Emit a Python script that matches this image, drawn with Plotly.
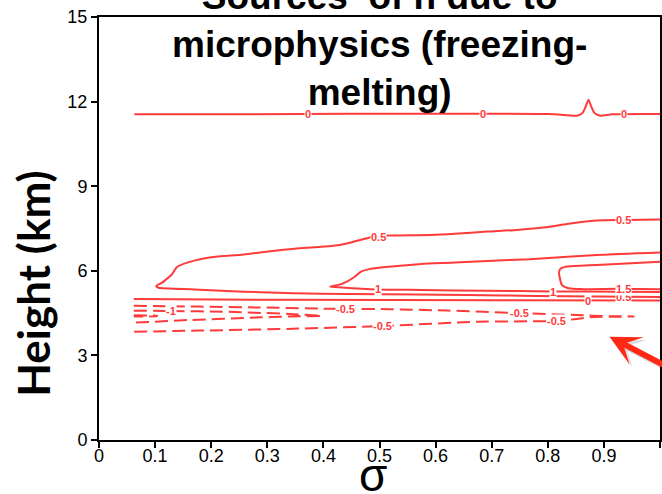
import plotly.graph_objects as go

# ---- contour paths (sigma, height in km) ----
zero_upper_x = [0.063, 0.18, 0.36, 0.53, 0.71, 0.80, 0.835, 0.852, 0.862, 0.868, 0.8725, 0.877, 0.883, 0.893, 0.915, 1.0]
zero_upper_y = [11.55, 11.55, 11.56, 11.57, 11.57, 11.56, 11.52, 11.50, 11.60, 11.85, 12.07, 11.85, 11.60, 11.50, 11.55, 11.56]

pos05_x = [1.0, 0.935, 0.887, 0.834, 0.804, 0.745, 0.692, 0.634, 0.591, 0.515, 0.499, 0.485, 0.444, 0.414,
           0.356, 0.317, 0.258, 0.200, 0.170, 0.140, 0.129, 0.120, 0.112, 0.104, 0.102, 0.106,
           0.170, 0.228, 0.289, 0.347, 0.444, 0.568, 0.657, 0.781, 0.887, 1.0]
pos05_y = [7.82, 7.80, 7.78, 7.66, 7.56, 7.45, 7.39, 7.31, 7.27, 7.25, 7.22, 7.19, 6.98, 6.88,
           6.80, 6.72, 6.58, 6.48, 6.36, 6.15, 5.85, 5.70, 5.57, 5.50, 5.44, 5.40,
           5.34, 5.28, 5.24, 5.20, 5.18, 5.16, 5.14, 5.11, 5.09, 5.07]

pos1_x = [1.0, 0.887, 0.768, 0.692, 0.634, 0.574, 0.533, 0.515, 0.480, 0.467, 0.456, 0.441, 0.427, 0.412,
          0.432, 0.497, 0.574, 0.692, 0.809, 0.922, 1.0]
pos1_y = [6.65, 6.56, 6.41, 6.35, 6.29, 6.24, 6.17, 6.14, 6.05, 5.97, 5.79, 5.61, 5.50, 5.44,
          5.41, 5.34, 5.32, 5.29, 5.27, 5.26, 5.25]

pos15_x = [1.0, 0.940, 0.887, 0.834, 0.822, 0.820, 0.821, 0.825, 0.837, 0.863, 0.922, 1.0]
pos15_y = [6.32, 6.26, 6.21, 6.15, 6.06, 5.92, 5.79, 5.50, 5.38, 5.35, 5.36, 5.35]

zero_lower_x = [0.062, 0.35, 0.70, 1.0]
zero_lower_y = [5.00, 4.97, 4.955, 4.945]

neg05_x = [0.062, 0.179, 0.285, 0.391, 0.439, 0.515, 0.621, 0.750, 0.851, 0.910, 0.954,
           0.925, 0.881, 0.851, 0.816, 0.674, 0.506, 0.356, 0.179, 0.062]
neg05_y = [4.76, 4.73, 4.70, 4.66, 4.65, 4.64, 4.59, 4.50, 4.43, 4.39, 4.38,
           4.37, 4.36, 4.29, 4.22, 4.195, 4.04, 3.95, 3.88, 3.84]

neg1_x = [0.062, 0.129, 0.2195, 0.338, 0.397, 0.338, 0.280, 0.161, 0.062]
neg1_y = [4.585, 4.575, 4.55, 4.47, 4.40, 4.38, 4.34, 4.255, 4.16]

neg15_x = [0.062, 0.098, 0.104, 0.098, 0.062]
neg15_y = [4.42, 4.415, 4.40, 4.385, 4.38]

# ---- contour labels ----
label_text = ["0", "0", "0", "0.5", "0.5", "0.5", "1", "1", "1.5", "0",
              "-0.5", "-0.5", "-0.5", "-0.5", "-1"]
label_x = [0.373, 0.685, 0.935, 0.499, 0.935, 0.935, 0.497, 0.810, 0.935, 0.872,
           0.439, 0.750, 0.506, 0.816, 0.129]
label_y = [11.55, 11.55, 11.55, 7.21, 7.80, 5.06, 5.34, 5.265, 5.37, 4.94,
           4.645, 4.50, 4.04, 4.22, 4.575]

x_ticks = [0, 0.1, 0.2, 0.3, 0.4, 0.5, 0.6, 0.7, 0.8, 0.9, 1]
y_ticks = [0, 3, 6, 9, 12, 15]

RED = "rgb(255,58,58)"
DASH = "13px,6px"

fig = go.Figure()

solid = [(zero_upper_x, zero_upper_y), (pos05_x, pos05_y), (pos1_x, pos1_y),
         (pos15_x, pos15_y), (zero_lower_x, zero_lower_y)]
dashed = [(neg05_x, neg05_y), (neg1_x, neg1_y), (neg15_x, neg15_y)]

for xs, ys in solid:
    fig.add_trace(go.Scatter(x=xs, y=ys, mode="lines", showlegend=False, hoverinfo="skip",
                             line=dict(color=RED, width=2, shape="spline", smoothing=0.6)))
for xs, ys in dashed:
    fig.add_trace(go.Scatter(x=xs, y=ys, mode="lines", showlegend=False, hoverinfo="skip",
                             line=dict(color=RED, width=2, dash=DASH, shape="spline", smoothing=0.6)))

annotations = []
for t, lx, ly in zip(label_text, label_x, label_y):
    annotations.append(dict(x=lx, y=ly, xref="x", yref="y", text="<b>%s</b>" % t, showarrow=False,
                             font=dict(family="Liberation Sans, Arial", size=11, color=RED),
                             bgcolor="white", borderpad=0))

# title
annotations.append(dict(
    x=0.5, y=0.934, xref="paper", yref="paper", xanchor="center", yanchor="middle",
    text="<b>Sources  of h due to<br>microphysics (freezing-<br>melting)</b>", showarrow=False,
    font=dict(family="Liberation Sans, Arial", size=37, color="black")))

# axis titles
annotations.append(dict(
    x=-0.117, y=0.37, xref="paper", yref="paper", xanchor="center", yanchor="middle",
    text="<b>Height (km)</b>", textangle=-90, showarrow=False,
    font=dict(family="Lato, Open Sans, sans-serif", size=44, color="black")))
annotations.append(dict(
    x=0.489, y=-0.082, xref="paper", yref="paper", xanchor="center", yanchor="middle",
    text="σ", showarrow=False,
    font=dict(family="Liberation Sans, Arial", size=46, color="black")))

# pointer arrow with a faint shadow
annotations.append(dict(x=0.915, y=3.56, xref="x", yref="y", ax=1.025, ay=2.42, axref="x", ayref="y",
                        text="", showarrow=True, arrowhead=3, arrowwidth=6, arrowsize=0.85,
                        arrowcolor="rgba(0,0,0,0.13)"))
annotations.append(dict(x=0.910, y=3.66, xref="x", yref="y", ax=1.02, ay=2.52, axref="x", ayref="y",
                        text="", showarrow=True, arrowhead=3, arrowwidth=6, arrowsize=0.85,
                        arrowcolor="rgb(255,40,20)"))

axis_font = dict(family="Liberation Sans Narrow, Arial Narrow, Liberation Sans", size=18, color="black")

fig.update_layout(
    width=662, height=494,
    margin=dict(l=99, r=0, t=17, b=54),
    paper_bgcolor="white", plot_bgcolor="white",
    annotations=annotations,
    xaxis=dict(range=[0, 1], tickvals=x_ticks, ticktext=[str(v) for v in x_ticks],
               showline=True, linecolor="black", linewidth=2, mirror=True,
               ticks="outside", ticklen=6, tickwidth=1.5, tickcolor="black",
               ticklabelstandoff=-8,
               showgrid=False, zeroline=False, tickfont=axis_font),
    yaxis=dict(range=[0, 15], tickvals=y_ticks,
               showline=True, linecolor="black", linewidth=2, mirror=True,
               ticks="outside", ticklen=6, tickwidth=1.5, tickcolor="black",
               showgrid=False, zeroline=False, tickfont=axis_font),
)

fig.write_html("out.html")
